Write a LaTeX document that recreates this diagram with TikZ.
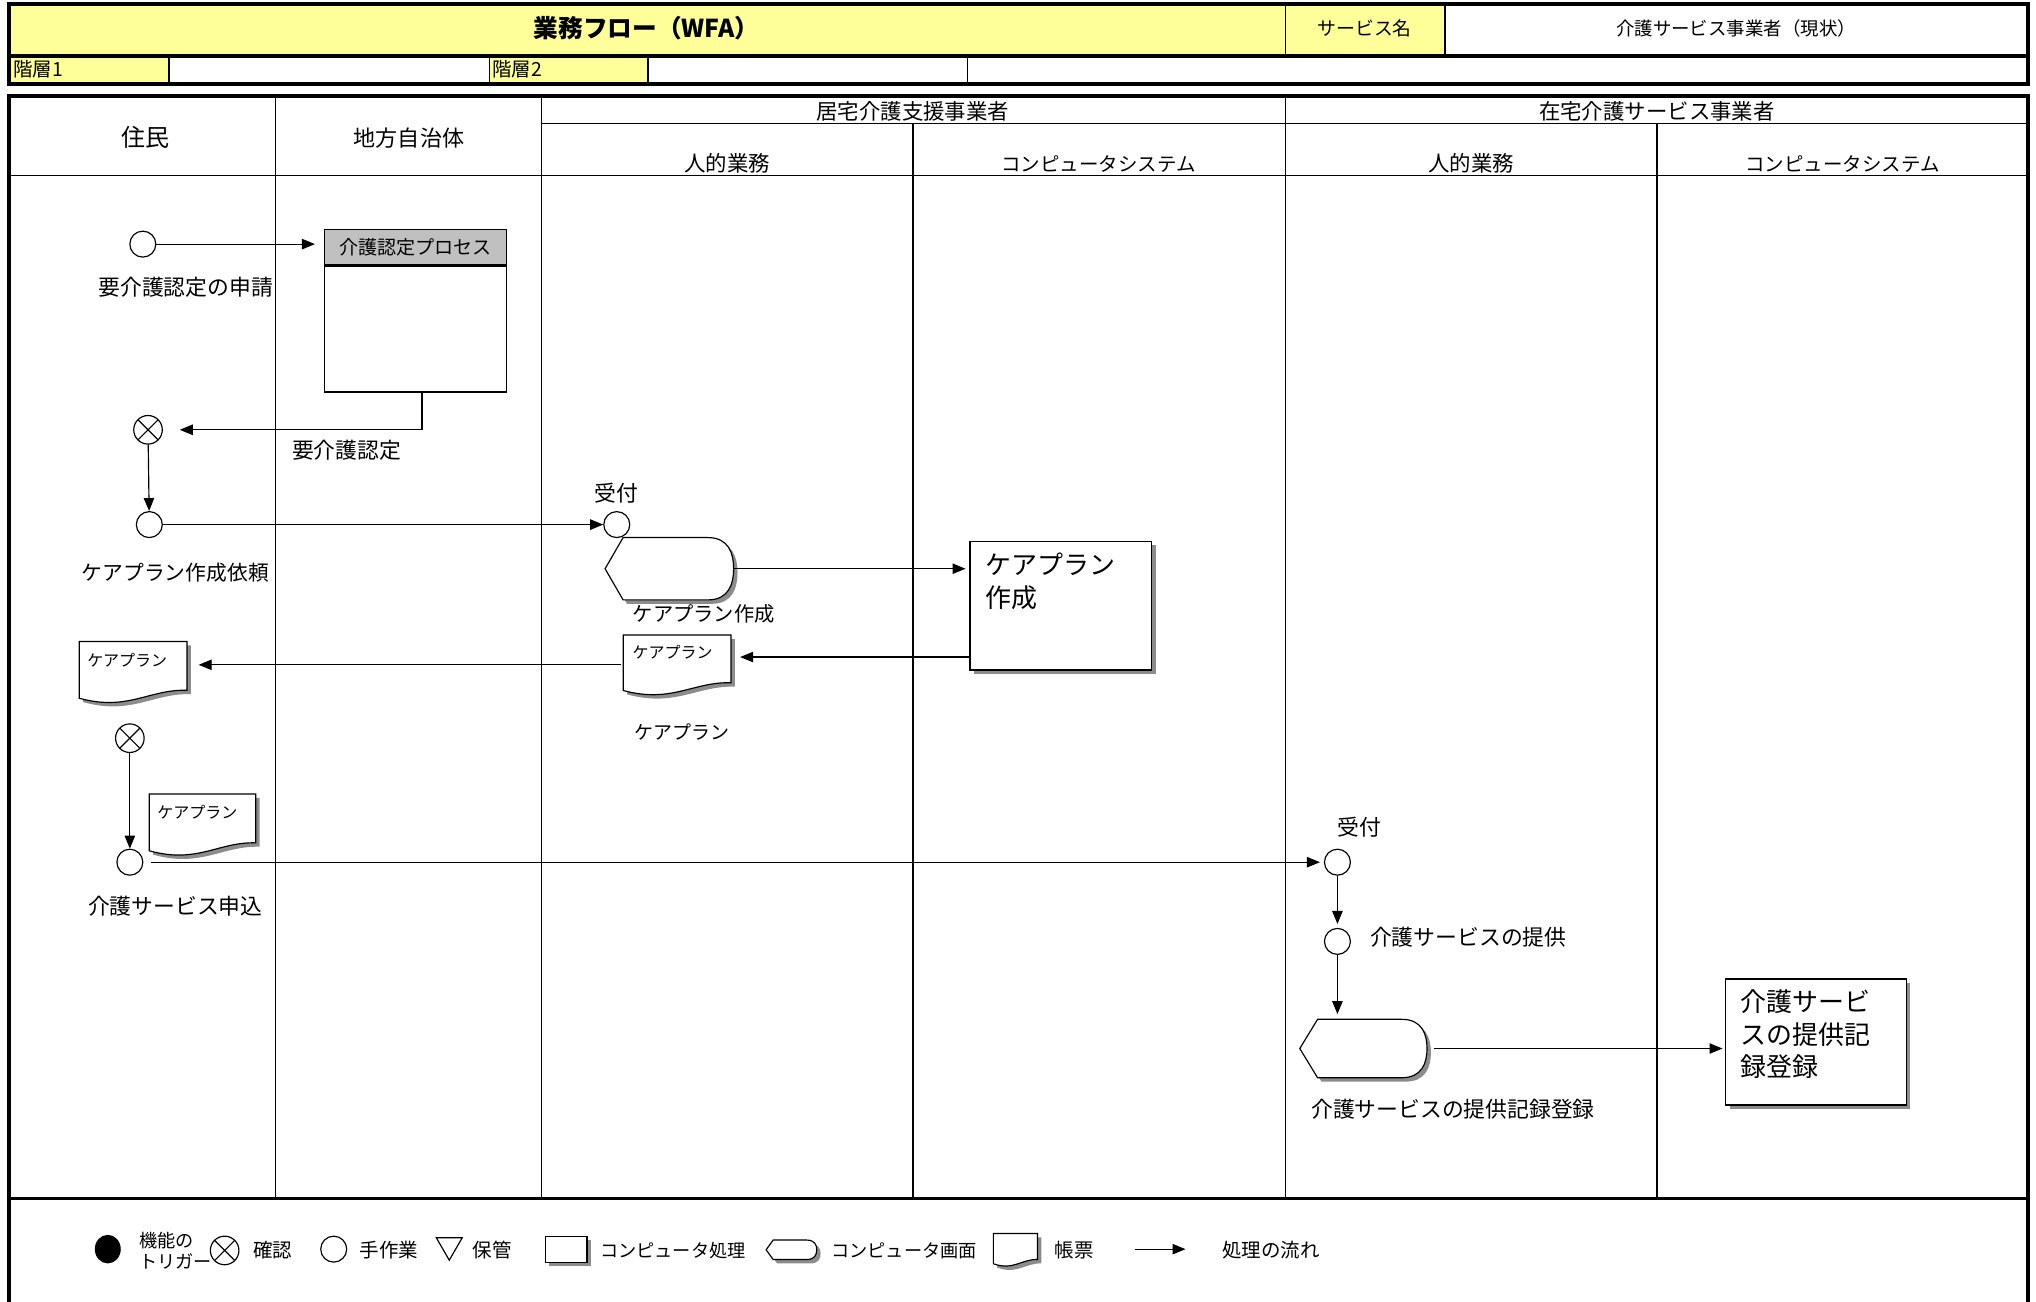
\documentclass[tikz,border=0pt]{standalone}
\usepackage{fontspec}
\setmainfont{Noto Sans CJK JP}
\usetikzlibrary{arrows.meta}
\usetikzlibrary{shadows}
\usetikzlibrary{shapes.geometric}
\usetikzlibrary{calc}

\definecolor{hdryellow}{HTML}{FFFF99}
\definecolor{boxgray}{HTML}{C0C0C0}

\newcommand{\fsz}[1]{\fontsize{#1}{#1}\selectfont}

\tikzset{
  frameline/.style={line width=3pt},
  laneline/.style={line width=1.2pt},
  flow/.style={-{Triangle[length=10pt,width=8pt]}, line width=0.9pt},
  castshadow/.style={drop shadow={shadow xshift=3pt, shadow yshift=-3pt, fill=black!45, opacity=1}},
  work/.style={circle, draw, line width=0.9pt, fill=white, minimum size=20pt, inner sep=0pt},
  check/.style={work, minimum size=22pt, path picture={
    \draw[line width=0.9pt] (path picture bounding box.north west) -- (path picture bounding box.south east)
      (path picture bounding box.north east) -- (path picture bounding box.south west);}},
  proc/.style={draw, line width=0.9pt, fill=white, castshadow, inner sep=0pt},
  ghost/.style={inner sep=0pt, outer sep=0pt},
  lbl/.style={font=\fsz{16.8}, inner sep=0pt},
  hdr/.style={font=\fsz{16.5}, inner sep=0pt},
  bigtxt/.style={font=\fontsize{20}{25}\selectfont, align=left, inner sep=0pt},
  doctxt/.style={font=\fsz{12.3}, inner sep=0pt},
  lgtxt/.style={font=\fsz{15}, inner sep=0pt},
}

% computer screen: pointed left end, rounded right end
\newcommand{\screennode}[4]{%
  \node[ghost, minimum width=#3pt, minimum height=#4pt] (#1) at (#2) {};
  \begin{scope}[shift={(#1.north west)}, x=#3pt, y=-#4pt]
    \draw[line width=0.9pt, fill=white, castshadow] (0,0.5) -- (0.14,0) -- (0.8,0)
      .. controls (0.96,0) and (1,0.25) .. (1,0.5)
      .. controls (1,0.75) and (0.96,1) .. (0.8,1) -- (0.14,1) -- cycle;
  \end{scope}}

% document with wavy bottom
\newcommand{\docnode}[4]{%
  \node[ghost, minimum width=#3pt, minimum height=#4pt] (#1) at (#2) {};
  \begin{scope}[shift={(#1.north west)}, x=#3pt, y=-#4pt]
    \draw[line width=0.9pt, fill=white, castshadow] (0,0) -- (1,0) -- (1,0.8)
      .. controls (0.65,0.78) and (0.45,1.15) .. (0,0.93) -- cycle;
  \end{scope}}

\begin{document}
\begin{tikzpicture}[x=1pt,y=1pt]
\useasboundingbox (0,0) rectangle (1568,-1002);

% header
\fill[hdryellow] (7,-3) rectangle (1113,-43);
\fill[hdryellow] (7,-43) rectangle (130,-65);
\fill[hdryellow] (377,-43) rectangle (499,-65);
\draw[laneline] (990,-3) -- (990,-43) (1113,-3) -- (1113,-43);
\draw[laneline] (130,-43) -- (130,-65) (377,-43) -- (377,-65) (499,-43) -- (499,-65) (745,-43) -- (745,-65);
\draw[frameline] (7,-43) -- (1562,-43);
\draw[frameline] (7,-3) rectangle (1562,-65);
\node[font=\bfseries\fsz{19}] (title) at (498,-22) {業務フロー（WFA）};
\node[font=\fsz{14.5}] (svcname) at (1051,-22) {サービス名};
\node[font=\fsz{14.2}] (svcval) at (1337,-22) {介護サービス事業者（現状）};
\node[font=\fsz{15}, anchor=west, inner sep=0pt] (lvl1) at (10,-53) {階層1};
\node[font=\fsz{15}, anchor=west, inner sep=0pt] (lvl2) at (379,-53) {階層2};

% lanes
\draw[frameline] (7,-1010) -- (7,-74) -- (1562,-74) -- (1562,-1010);
\draw[frameline] (7,-923) -- (1562,-923);
\draw[laneline] (7,-135) -- (1562,-135) (417,-95) -- (1562,-95);
\foreach \lx in {212,417,990} \draw[laneline] (\lx,-74) -- (\lx,-923);
\foreach \lx in {703,1276} \draw[laneline] (\lx,-95) -- (\lx,-923);
\node[hdr, font=\fsz{18.5}] (resident) at (112,-106) {住民};
\node[hdr, font=\fsz{17}] (city) at (315,-106) {地方自治体};
\node[hdr] (care) at (703,-86) {居宅介護支援事業者};
\node[hdr] (home) at (1276,-86) {在宅介護サービス事業者};
\node[hdr] (care1) at (560,-126) {人的業務};
\node[hdr, font=\fsz{15}] (care2) at (846,-126) {コンピュータシステム};
\node[hdr] (home1) at (1133,-126) {人的業務};
\node[hdr, font=\fsz{15}] (home2) at (1419,-126) {コンピュータシステム};

% certification
\node[work] (apply) at (110,-188) {};
\node[lbl] (applyl) at (143,-221) {要介護認定の申請};
\node[draw, line width=0.9pt, fill=boxgray, minimum width=140pt, minimum height=27pt, inner sep=0pt, font=\fsz{14.7}] (nkhead) at (320,-190.5) {介護認定プロセス};
\node[draw, line width=0.9pt, fill=white, minimum width=140pt, minimum height=97pt, inner sep=0pt, anchor=north] (nkbody) at (nkhead.south) {};
\draw[flow, shorten >=7pt] (apply) -- (apply -| nkhead.west);
\node[check] (cert) at (114,-331) {};
\draw[flow, shorten >=13pt] ([xshift=5pt]nkbody.south) |- (cert);
\node[lbl] (certl) at (267,-347) {要介護認定};

% care plan
\node[work] (req) at (115,-404) {};
\draw[flow] (cert) -- (req);
\node[lbl, font=\fsz{16}] (reql) at (135,-441) {ケアプラン作成依頼};
\node[work] (rcv1) at (475,-404) {};
\node[lbl] (rcv1l) at (475,-380) {受付};
\draw[flow] (req) -- (rcv1);
\screennode{plan}{515.5,-438}{99}{48}
\node[lbl, font=\fsz{15.6}] (planl) at (542,-473) {ケアプラン作成};
\node[proc, minimum width=140pt, minimum height=99pt] (planbox) at (817,-466.5) {};
\node[bigtxt, anchor=north west] (planboxt) at (759,-426) {ケアプラン\\作成};
\draw[flow, shorten >=3pt] (plan.east) -- (plan.east -| planbox.west);
\docnode{sheet2}{521.5,-512}{83}{46}
\node[doctxt, anchor=north west] (sheet2t) at (487,-497) {ケアプラン};
\coordinate (back) at ([yshift=-39.5pt]planbox.west);
\draw[flow, shorten >=7pt] (back) -- (back -| sheet2.east);
\node[lbl, font=\fsz{14.6}] (sheet2l) at (525,-564) {ケアプラン};
\docnode{sheet1}{102.5,-517.5}{83}{47}
\node[doctxt, anchor=north west] (sheet1t) at (67,-503) {ケアプラン};
\draw[flow, shorten <=2pt, shorten >=9pt] (sheet2.west) -- (sheet2.west -| sheet1.east);

% service
\node[check] (look) at (100,-568.5) {};
\node[work] (apply2) at (100,-664) {};
\draw[flow] (look) -- (apply2);
\docnode{sheet3}{156,-635}{82}{47}
\node[doctxt, anchor=north west] (sheet3t) at (121,-620) {ケアプラン};
\node[lbl] (apply2l) at (135,-698) {介護サービス申込};
\node[work] (rcv2) at (1030,-664) {};
\node[lbl] (rcv2l) at (1047,-637) {受付};
\draw[flow, shorten <=6pt, shorten >=3pt] (apply2) -- (rcv2);
\node[work] (serve) at (1030,-725) {};
\node[lbl, anchor=west] (servel) at (1055,-722) {介護サービスの提供};
\draw[flow, shorten >=3pt] (rcv2) -- (serve);
\screennode{entry}{1050,-807.5}{98}{45}
\draw[flow, shorten >=4pt] (serve) -- (serve |- entry.north);
\node[lbl] (entryl) at (1119,-854) {介護サービスの提供記録登録};
\node[proc, minimum width=139pt, minimum height=97pt] (entrybox) at (1398.5,-802.5) {};
\node[bigtxt, anchor=north west] (entryboxt) at (1340,-762) {介護サービ\\スの提供記\\録登録};
\draw[flow, shorten <=5pt, shorten >=2pt] (entry.east) -- (entry.east -| entrybox.west);

% legend
\node[ellipse, fill=black, minimum width=20pt, minimum height=22pt, inner sep=0pt] (lgtrig) at (83,-962) {};
\node[font=\fontsize{14}{16}\selectfont, align=left, anchor=west, inner sep=0pt] (lgtrigl) at (107,-963) {機能の\\トリガー};
\node[check] (lgchk) at (173,-963) {};
\node[lgtxt, anchor=west] (lgchkl) at (195,-963) {確認};
\node[work] (lgwork) at (257,-962) {};
\node[lgtxt, anchor=west] (lgworkl) at (277,-963) {手作業};
\node[draw, line width=0.9pt, regular polygon, regular polygon sides=3, shape border rotate=180, minimum size=23pt, inner sep=0pt] (lgkeep) at (346,-959) {};
\node[lgtxt, anchor=west] (lgkeepl) at (364,-963) {保管};
\node[proc, minimum width=32pt, minimum height=20pt] (lgproc) at (436,-962) {};
\node[lgtxt, font=\fsz{14}, anchor=west] (lgprocl) at (462,-963) {コンピュータ処理};
\screennode{lgscr}{609.5,-962.5}{39}{15}
\node[lgtxt, font=\fsz{14}, anchor=west] (lgscrl) at (640,-963) {コンピュータ画面};
\docnode{lgdoc}{782,-962.5}{34}{25}
\node[lgtxt, anchor=west] (lgdocl) at (812,-963) {帳票};
\coordinate (lgfrom) at (874,-962);
\coordinate (lgto) at (913,-962);
\draw[flow] (lgfrom) -- (lgto);
\node[lgtxt, anchor=west] (lgflowl) at (941,-963) {処理の流れ};
\end{tikzpicture}
\end{document}
